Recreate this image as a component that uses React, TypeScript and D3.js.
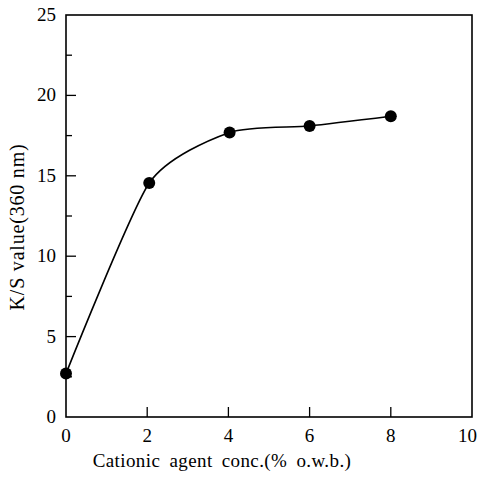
import React from "react";
import * as d3 from "d3";

const conc = [0, 2.05, 4.03, 6, 8];
const ksValues = [2.7, 14.55, 17.7, 18.1, 18.7];
const xTicks = [0, 2, 4, 6, 8, 10];
const yTicks = [0, 5, 10, 15, 20, 25];
const yMinorTicks = [2.5, 7.5, 12.5, 17.5, 22.5];
const xLabel = "Cationic agent conc.(% o.w.b.)";
const yLabel = "K/S value(360 nm)";

export default function App() {
  const W = 478, H = 480;
  const left = 66, right = 472, top = 15, bottom = 417;
  const x = d3.scaleLinear().domain([0, 10]).range([left, right]);
  const y = d3.scaleLinear().domain([0, 25]).range([bottom, top]);
  const pts = conc.map((c, i) => [c, ksValues[i]] as [number, number]);
  const line = d3
    .line<[number, number]>()
    .x((d) => x(d[0]))
    .y((d) => y(d[1]))
    .curve(d3.curveCardinal.tension(0.35));
  const font = "'Liberation Serif', 'DejaVu Serif', serif";
  return (
    <svg width={W} height={H} style={{ position: "absolute", left: 0, top: 0 }}>
      <rect x={0} y={0} width={W} height={H} fill="#fff" />
      <rect x={left} y={top} width={right - left} height={bottom - top} fill="none" stroke="#000" strokeWidth={1.6} />
      {yTicks.slice(1, -1).map((t) => (
        <line key={"ym" + t} x1={left} x2={left + 10} y1={y(t)} y2={y(t)} stroke="#000" strokeWidth={1.3} />
      ))}
      {yMinorTicks.map((t) => (
        <line key={"yn" + t} x1={left} x2={left + 6} y1={y(t)} y2={y(t)} stroke="#000" strokeWidth={1.3} />
      ))}
      {xTicks.slice(1, -1).map((t) => (
        <line key={"xm" + t} x1={x(t)} x2={x(t)} y1={bottom} y2={bottom - 10} stroke="#000" strokeWidth={1.3} />
      ))}
      {yTicks.map((t) => (
        <text key={"yl" + t} x={left - 10} y={y(t) + 6} textAnchor="end" fontFamily={font} fontSize={19} fill="#000">
          {t}
        </text>
      ))}
      {xTicks.map((t, i) => (
        <text
          key={"xl" + t}
          x={i === xTicks.length - 1 ? W - 1 : x(t)}
          y={bottom + 25}
          textAnchor={i === xTicks.length - 1 ? "end" : "middle"}
          fontFamily={font}
          fontSize={19}
          fill="#000"
        >
          {t}
        </text>
      ))}
      <text x={222} y={467} textAnchor="middle" fontFamily={font} fontSize={19} wordSpacing={4} letterSpacing={0.4} fill="#000">
        {xLabel}
      </text>
      <text
        transform={`translate(24, 227) rotate(-90)`}
        textAnchor="middle"
        fontFamily={font}
        fontSize={20}
        letterSpacing={0.8}
        fill="#000"
      >
        {yLabel}
      </text>
      <path d={line(pts) || ""} fill="none" stroke="#000" strokeWidth={1.6} />
      {pts.map((p, i) => (
        <circle key={"p" + i} cx={x(p[0])} cy={y(p[1])} r={6} fill="#000" />
      ))}
    </svg>
  );
}
